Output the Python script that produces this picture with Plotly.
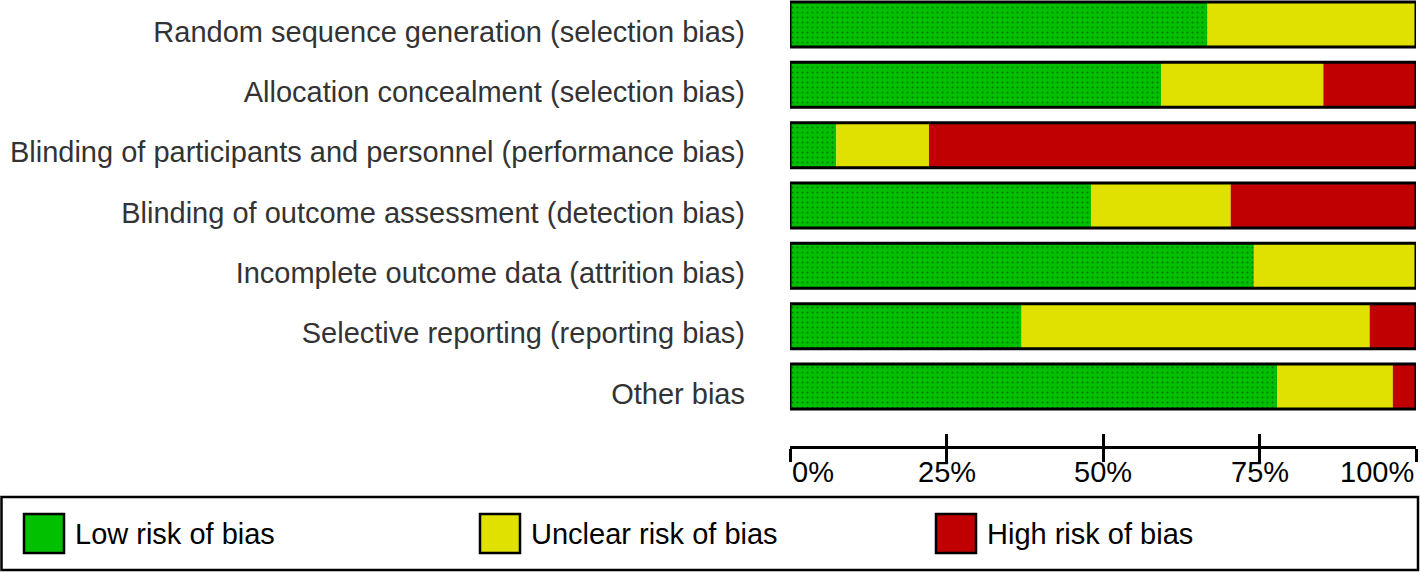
import plotly.graph_objects as go

categories = [
    "Random sequence generation (selection bias)",
    "Allocation concealment (selection bias)",
    "Blinding of participants and personnel (performance bias)",
    "Blinding of outcome assessment (detection bias)",
    "Incomplete outcome data (attrition bias)",
    "Selective reporting (reporting bias)",
    "Other bias",
]
# percentages of studies (27 studies)
low_risk = [66.7, 59.3, 7.4, 48.1, 74.1, 37.0, 77.8]
unclear_risk = [33.3, 25.9, 14.8, 22.3, 25.9, 55.6, 18.5]
high_risk = [0.0, 14.8, 77.8, 29.6, 0.0, 7.4, 3.7]

series_names = ["Low risk of bias", "Unclear risk of bias", "High risk of bias"]
series_colors = ["#00c000", "#e1e100", "#c00000"]

tick_values = [0, 25, 50, 75, 100]
tick_labels = ["0%", "25%", "50%", "75%", "100%"]

W, H = 1420, 573
FONT = "Liberation Sans, Arial, sans-serif"
FS = 29

def py(px):
    return 1 - px / H

fig = go.Figure()
bases = [
    [0] * len(categories),
    low_risk,
    [a + b for a, b in zip(low_risk, unclear_risk)],
]
values = [low_risk, unclear_risk, high_risk]
patterns = [
    dict(shape=".", fgcolor="#003000", size=5, solidity=0.12),
    dict(shape=""),
    dict(shape=""),
]
for name, vals, base, col, pat in zip(series_names, values, bases, series_colors, patterns):
    fig.add_trace(go.Bar(
        y=categories, x=vals, base=base, orientation="h", name=name,
        marker=dict(color=col, line=dict(width=0), pattern=pat),
        width=0.746, hoverinfo="skip", cliponaxis=False,
    ))

totals = [a + b + c for a, b, c in zip(low_risk, unclear_risk, high_risk)]
fig.add_trace(go.Bar(
    y=categories, x=totals, base=[0] * len(categories), orientation="h",
    marker=dict(color="rgba(0,0,0,0)", line=dict(color="black", width=3)),
    width=0.746, hoverinfo="skip", cliponaxis=False, showlegend=False,
))
# invisible trace for xaxis2 to render
fig.add_trace(go.Scatter(x=[0, 100], y=[categories[0], categories[0]], xaxis="x2",
                         mode="markers", marker=dict(opacity=0), hoverinfo="skip",
                         showlegend=False))

x0, x1 = 790 / W, 1416 / W
axis_pos = py(447)
fig.update_layout(
    width=W, height=H,
    margin=dict(l=0, r=0, t=0, b=0),
    paper_bgcolor="white", plot_bgcolor="white",
    barmode="overlay", showlegend=False,
    font=dict(family=FONT, size=FS, color="#333333"),
    xaxis=dict(domain=[x0, x1], range=[0, 100], anchor="free", position=axis_pos,
               showgrid=False, zeroline=False, showline=True, linecolor="black", linewidth=3,
               ticks="outside", ticklen=13, tickwidth=3, tickcolor="black",
               tickvals=tick_values, showticklabels=False),
    xaxis2=dict(domain=[x0, x1], range=[0, 100], anchor="free", position=axis_pos,
                overlaying="x", matches="x",
                showgrid=False, zeroline=False, showline=False,
                ticks="inside", ticklen=13, tickwidth=3, tickcolor="black",
                tickvals=tick_values, showticklabels=False),
    yaxis=dict(domain=[py(416.67), 1], range=[6.5, -0.406], type="category",
               showgrid=False, zeroline=False, showline=False, ticks="",
               ticklabelstandoff=44, ticklabelshift=-7,
               tickfont=dict(family=FONT, size=FS, color="#333333")),
)

# tick labels
for i, (v, t) in enumerate(zip(tick_values, tick_labels)):
    anchor = "left" if i == 0 else ("right" if i == len(tick_values) - 1 else "center")
    fig.add_annotation(x=v, y=py(472), xref="x", yref="paper", text=t, showarrow=False,
                       xanchor=anchor, yanchor="middle",
                       font=dict(family=FONT, size=FS, color="black"))

# legend box
fig.add_shape(type="rect", xref="paper", yref="paper",
              x0=1.5 / W, x1=1418 / W, y0=py(570), y1=py(497),
              line=dict(color="black", width=2.5), fillcolor="rgba(0,0,0,0)")
leg_x = [24, 480, 936]
for lx, name, col in zip(leg_x, series_names, series_colors):
    fig.add_shape(type="rect", xref="paper", yref="paper",
                  x0=lx / W, x1=(lx + 40) / W, y0=py(553), y1=py(514),
                  line=dict(color="black", width=2.5), fillcolor=col)
    fig.add_annotation(x=(lx + 49) / W, y=py(534), xref="paper", yref="paper",
                       text=name, showarrow=False, xanchor="left", yanchor="middle",
                       font=dict(family=FONT, size=FS, color="black"))

fig.write_html(
    "out.html",
    config={"displayModeBar": False},
    post_script="document.body.style.margin='0';document.body.style.padding='0';"
                "document.body.style.overflow='hidden';",
)
